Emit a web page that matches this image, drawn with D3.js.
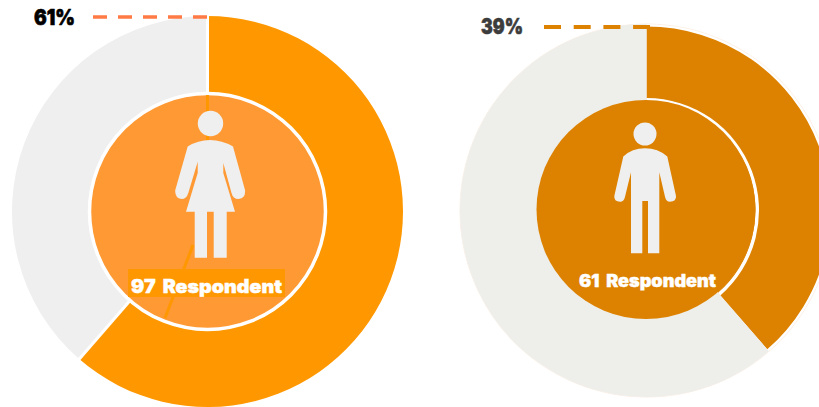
<!DOCTYPE html>
<html><head><meta charset="utf-8">
<style>html,body{margin:0;padding:0;background:#fff;overflow:hidden}svg{display:block}
text{font-family:Inter,Lato,sans-serif;font-weight:900;stroke-linejoin:round}</style>
<script src="https://cdn.jsdelivr.net/npm/d3@7"></script></head><body>
<script>
const femaleCounts = [97, 61];
const maleCounts = [61, 97];
const femaleLabel = "61%", maleLabel = "39%";
const femaleCount = "97 Respondent", maleCount = "61 Respondent";

const womanPath = "M187.7 146.5Q198 140 210 140Q222 140 233 146.5L245 190Q246 198 238.5 199Q233 199 231.5 193L223.3 163V173L235 211.7H226.7V257.7H213.7V211.7H207V257.7H194.7V211.7H186L197.7 173V161.7L188.3 193Q186.5 199 181.5 199Q174.5 198 175.3 190Z";
const manPath = "M623.3 156.5Q632 148.3 645 148.3Q658 148.3 667.3 156.5L676 196Q676.5 201.7 670 201.7Q666 201.7 665 196.7L659.3 172.3V253.3H648V201H642.3V253.3H631V172.3L625 196.7Q624 201.7 620 201.7Q613.8 201.7 614.3 196Z";

const svg = d3.select("body").append("svg").attr("width", 819).attr("height", 407);
const pie = d3.pie().sort(null);

function label(x, y, size, len, fill, str, sw) {
  svg.append("text").attr("x", x).attr("y", y).attr("font-size", size)
    .attr("textLength", len).attr("lengthAdjust", "spacingAndGlyphs")
    .attr("word-spacing", 3).attr("fill", fill)
    .attr("stroke", fill).attr("stroke-width", sw).text(str);
}

// Left: female
const L = svg.append("g").attr("transform", "translate(207.5,211.5)");
const arcL = d3.arc().innerRadius(118).outerRadius(195.5);
L.selectAll("path.s").data(pie(femaleCounts)).join("path").attr("class", "s")
  .attr("d", arcL).attr("fill", (d, i) => ["#ff9800", "#efefef"][i]);
L.selectAll("line.sep").data(pie(femaleCounts)).join("line").attr("class", "sep")
  .attr("x1", d => 117 * Math.sin(d.startAngle)).attr("y1", d => -117 * Math.cos(d.startAngle))
  .attr("x2", d => 197 * Math.sin(d.startAngle)).attr("y2", d => -197 * Math.cos(d.startAngle))
  .attr("stroke", "#fff").attr("stroke-width", 3);
L.append("circle").attr("r", 118).attr("fill", "#ff9933").attr("stroke", "#fff").attr("stroke-width", 3.5);
svg.append("path").attr("d", "M207.5 95V140M193 245L165 318").attr("stroke", "#ff9800").attr("stroke-width", 3).attr("fill", "none");
svg.append("circle").attr("cx", 210.5).attr("cy", 123.5).attr("r", 12.7).attr("fill", "#efefef");
svg.append("path").attr("d", womanPath).attr("fill", "#efefef");
svg.append("rect").attr("x", 128).attr("y", 269).attr("width", 157).attr("height", 28).attr("fill", "#ff9800");
label(131, 293, 18.5, 151, "#fff", femaleCount, 0.4);
svg.append("line").attr("x1", 93).attr("x2", 208).attr("y1", 17).attr("y2", 17).attr("stroke", "#ff7a45").attr("stroke-width", 3.5).attr("stroke-dasharray", "14 11");
label(34, 25, 21, 41, "#000", femaleLabel, 0.6);

// Right: male
const R = svg.append("g").attr("transform", "translate(646.5,210.5)");
R.append("circle").attr("r", 187).attr("fill", "#fbeee2");
R.append("circle").attr("r", 186.3).attr("fill", "#fff");
const radii = [184, 186.5];
const arcR = d3.arc().innerRadius(108);
R.selectAll("path.s").data(pie(maleCounts)).join("path").attr("class", "s")
  .attr("d", (d, i) => arcR.outerRadius(radii[i])(d)).attr("fill", (d, i) => ["#dd8200", "#eeeeea"][i]);
const ringArc = d3.arc().innerRadius(109).outerRadius(112.5);
R.append("path").attr("d", ringArc(pie(maleCounts)[0])).attr("fill", "#fff");
R.append("circle").attr("cx", -0.5).attr("cy", -1).attr("r", 109.5).attr("fill", "#dd8200");
svg.append("circle").attr("cx", 645).attr("cy", 134).attr("r", 11.5).attr("fill", "#efefef");
svg.append("path").attr("d", manPath).attr("fill", "#efefef");
label(579, 286.5, 17, 137, "#fff", maleCount, 0.4);
svg.append("line").attr("x1", 544).attr("x2", 650).attr("y1", 27).attr("y2", 27).attr("stroke", "#dd8200").attr("stroke-width", 4).attr("stroke-dasharray", "17 12.7");
label(481, 34, 21, 42, "#3c3c3c", maleLabel, 0.6);
</script></body></html>
